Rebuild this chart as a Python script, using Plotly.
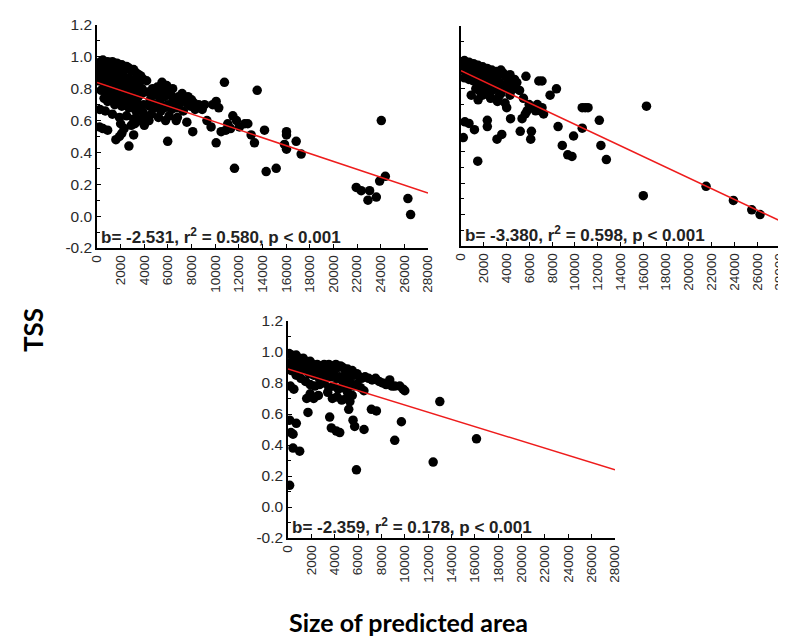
import plotly.graph_objects as go

# ---------------- data ----------------
# Panel A (top-left)
a_x = [100,300,500,700,900,1100,1300,1500,1700,1900,2100,2300,2500,2700,2900,3100,3300,3500,3700,3900,
       200,400,600,800,1000,1200,1400,1600,1800,2000,2200,2400,2600,2800,3000,3200,3400,3600,3800,
       150,500,800,1100,1400,1700,2000,2300,2600,2900,3200,3500,3800,
       600,900,1200,1500,1800,2100,2400,2700,3000,3300,3600,3900,
       700,1300,1900,2500,3100,3700,4100,
       200,500,900,250,1600,1900,2100,2300,2000,2700,3100,2900,3200,4000,3400,
       4200,4300,4500,4700,4800,5000,5100,5300,5400,5600,5700,5900,6000,6100,6200,6400,6500,6600,6700,6900,
       7000,7200,7300,7500,7600,7700,7900,8000,8300,8600,8900,9100,4600,5200,5800,6300,4400,4900,5500,6800,
       5980,8100,9650,9790,10080,10080,10500,10780,11060,11490,11800,12050,12500,12760,13040,13320,13550,
       11630,14170,14310,15160,16030,16030,15860,16030,16850,17270,21930,22350,22920,23060,23630,23910,
       24390,24050,26300,26530,10300,9300,10900,11300,
       400,1000,1600,2200,2800,3400,4000,4600,5200,5800,6400,7000,7600,8200,
       350,950,1550,2150,2750,3350,3950,4450,5050,5650,6250,6850]
a_y = [0.95,0.97,0.98,0.96,0.97,0.95,0.97,0.94,0.96,0.93,0.95,0.92,0.94,0.93,0.91,0.92,0.90,0.89,0.88,0.86,
       0.90,0.92,0.89,0.91,0.88,0.90,0.87,0.89,0.86,0.88,0.85,0.87,0.84,0.86,0.83,0.85,0.82,0.84,0.80,
       0.85,0.84,0.81,0.83,0.80,0.78,0.80,0.77,0.79,0.76,0.78,0.75,0.77,
       0.74,0.72,0.73,0.70,0.72,0.69,0.71,0.68,0.70,0.66,0.68,0.65,
       0.66,0.64,0.62,0.63,0.61,0.60,0.62,
       0.56,0.55,0.54,0.67,0.48,0.50,0.52,0.55,0.58,0.44,0.51,0.57,0.58,0.57,0.61,
       0.85,0.78,0.73,0.80,0.68,0.76,0.81,0.72,0.66,0.79,0.75,0.82,0.70,0.63,0.77,0.80,0.73,0.68,0.60,0.75,
       0.71,0.77,0.66,0.72,0.59,0.75,0.69,0.73,0.67,0.70,0.67,0.70,0.64,0.62,0.60,0.67,0.60,0.70,0.84,0.62,
       0.47,0.53,0.56,0.70,0.72,0.46,0.53,0.84,0.58,0.63,0.60,0.56,0.58,0.58,0.51,0.46,0.79,
       0.30,0.54,0.28,0.30,0.53,0.51,0.45,0.42,0.47,0.39,0.18,0.16,0.10,0.16,0.12,0.22,
       0.25,0.60,0.11,0.01,0.68,0.60,0.54,0.55,
       0.87,0.86,0.84,0.82,0.81,0.79,0.78,0.77,0.78,0.76,0.74,0.73,0.71,0.71,
       0.79,0.77,0.75,0.74,0.73,0.72,0.70,0.69,0.69,0.68,0.70,0.68]
a_fit_x = [0, 28000]
a_fit_y = [0.84, 0.145]
a_label = "b= -2.531, r<sup>2</sup> = 0.580, p < 0.001"

# Panel B (top-right)
b_x = [100,300,500,700,900,1100,1300,1500,1700,1900,2100,2300,2500,2700,2900,3100,3300,3500,3700,3900,4100,4300,4500,4700,4900,
       200,400,600,800,1000,1200,1400,1600,1800,2000,2200,2400,2600,2800,3000,3200,3400,3600,3800,4000,4200,4400,4600,
       300,700,1100,1500,1900,2300,2700,3100,3500,1300,1700,2500,3300,
       900,1890,2600,3440,1500,
       5700,5140,5480,6830,7110,7820,8380,4010,3870,4350,5200,5360,5640,6180,6120,5980,6270,6550,7110,7250,6700,7000,5800,
       1470,200,340,700,1180,2310,2310,3160,3580,4300,3200,
       8520,8890,9370,9740,9880,10640,10640,11150,10900,12140,12280,12760,16280,16000,21510,23910,25520,26250]
b_y = [0.97,0.98,0.96,0.97,0.95,0.96,0.94,0.95,0.93,0.94,0.92,0.93,0.91,0.92,0.90,0.91,0.89,0.92,0.90,0.88,0.87,0.89,0.85,0.86,0.84,
       0.92,0.93,0.91,0.90,0.91,0.89,0.90,0.88,0.87,0.88,0.86,0.85,0.86,0.84,0.85,0.83,0.84,0.82,0.80,0.83,0.81,0.79,0.80,
       0.87,0.86,0.85,0.83,0.82,0.80,0.79,0.80,0.77,0.80,0.78,0.76,0.75,
       0.76,0.76,0.74,0.77,0.73,
       0.88,0.79,0.74,0.85,0.85,0.76,0.80,0.68,0.71,0.61,0.53,0.61,0.64,0.53,0.48,0.70,0.68,0.66,0.68,0.64,0.70,0.66,0.66,
       0.34,0.49,0.59,0.58,0.54,0.60,0.56,0.48,0.51,0.76,0.72,
       0.56,0.44,0.38,0.37,0.50,0.55,0.68,0.68,0.68,0.60,0.44,0.35,0.69,0.12,0.18,0.09,0.03,0.00]
b_fit_x = [0, 28000]
b_fit_y = [0.915, -0.04]
b_label = "b= -3.380, r<sup>2</sup> = 0.598, p < 0.001"

# Panel C (bottom-centre)
c_x = [100,300,500,700,900,1100,1300,1500,1700,1900,2100,2300,2500,2700,2900,3100,3300,3500,3700,3900,4100,4300,4500,4700,4900,
       5100,5300,5500,5700,5900,6100,6300,6600,6900,7200,7500,7800,8100,8400,8710,9140,9570,9860,10000,8900,
       200,400,600,800,1000,1200,1400,1600,1800,2000,2200,2400,2600,2800,3000,3200,3400,3600,3800,4000,4200,4400,4600,4800,5000,
       5200,5400,5600,5900,6200,6500,
       300,700,1100,1500,1900,2300,2700,3100,3500,3900,4300,4700,5100,5500,
       200,500,1600,1900,2200,2600,3400,3800,4200,4600,5000,5300,
       140,5860,12430,13000,16140,9140,9710,6510,5710,5570,5200,1710,3570,3710,4140,4430,140,430,710,430,1000,7140,7570,250]
c_y = [0.99,0.98,0.97,0.98,0.96,0.95,0.96,0.94,0.93,0.94,0.92,0.91,0.92,0.90,0.91,0.92,0.91,0.92,0.90,0.91,0.92,0.90,0.91,0.90,0.88,
       0.89,0.87,0.88,0.85,0.86,0.84,0.83,0.84,0.83,0.82,0.83,0.81,0.80,0.79,0.82,0.78,0.78,0.76,0.75,0.78,
       0.93,0.94,0.92,0.90,0.91,0.89,0.90,0.88,0.86,0.87,0.85,0.86,0.84,0.85,0.87,0.85,0.86,0.84,0.86,0.85,0.83,0.84,0.82,0.83,0.80,
       0.82,0.80,0.78,0.79,0.77,0.75,
       0.88,0.85,0.83,0.81,0.79,0.78,0.79,0.80,0.77,0.78,0.76,0.77,0.74,0.72,
       0.78,0.76,0.70,0.73,0.70,0.72,0.74,0.70,0.71,0.69,0.70,0.68,
       0.14,0.24,0.29,0.68,0.44,0.43,0.55,0.50,0.52,0.56,0.63,0.61,0.58,0.51,0.49,0.48,0.56,0.47,0.54,0.38,0.36,0.63,0.62,0.48]
c_fit_x = [0, 28000]
c_fit_y = [0.89, 0.24]
c_label = "b= -2.359, r<sup>2</sup> = 0.178, p < 0.001"

x_tickvals = [0,2000,4000,6000,8000,10000,12000,14000,16000,18000,20000,22000,24000,26000,28000]
y_tickvals = [-0.2,0.0,0.2,0.4,0.6,0.8,1.0,1.2]
y_ticktext = ["-0.2","0.0","0.2","0.4","0.6","0.8","1.0","1.2"]

# ---------------- figure ----------------
W, H = 786, 644
def dom_x(a, b): return [a / W, b / W]
def dom_y(top, bot): return [1 - bot / H, 1 - top / H]

panels = [
    dict(x=a_x, y=a_y, fx=a_fit_x, fy=a_fit_y, lab=a_label, xd=dom_x(89, 420), yd=dom_y(17, 240), ylab=True),
    dict(x=b_x, y=b_y, fx=b_fit_x, fy=b_fit_y, lab=b_label, xd=dom_x(453, 772), yd=dom_y(18, 238), ylab=False),
    dict(x=c_x, y=c_y, fx=c_fit_x, fy=c_fit_y, lab=c_label, xd=dom_x(280, 607), yd=dom_y(313, 530), ylab=True),
]

fig = go.Figure()
FONT = "Liberation Sans, Arial, sans-serif"
tick_font = dict(family=FONT, size=13.5, color="#2a2a2a")
annotations = []
for i, p in enumerate(panels):
    sfx = "" if i == 0 else str(i + 1)
    xa, ya = "x" + sfx, "y" + sfx
    fig.add_trace(go.Scatter(x=p["x"], y=p["y"], mode="markers", xaxis=xa, yaxis=ya,
                             marker=dict(color="black", size=9.5, line=dict(width=0)),
                             showlegend=False, hoverinfo="skip"))
    fig.add_trace(go.Scatter(x=p["fx"], y=p["fy"], mode="lines", xaxis=xa, yaxis=ya,
                             line=dict(color="#ee1c1c", width=1.5), showlegend=False,
                             hoverinfo="skip"))
    fig.layout["xaxis" + sfx] = dict(
        domain=p["xd"], anchor=ya, range=[0, 28000], tickvals=x_tickvals,
        ticktext=[str(v) for v in x_tickvals], tickangle=-90, ticks="inside", ticklen=4,
        tickcolor="black", showline=True, linecolor="black", linewidth=1.5,
        showgrid=False, zeroline=False, tickfont=tick_font, fixedrange=True,
        automargin=False)
    fig.layout["yaxis" + sfx] = dict(
        domain=p["yd"], anchor=xa, range=[-0.2, 1.2], tickvals=y_tickvals,
        ticktext=y_ticktext, showticklabels=p["ylab"], ticks="inside", ticklen=4,
        tickcolor="black", showline=True, linecolor="black", linewidth=1.5,
        showgrid=False, zeroline=False, tickfont=dict(tick_font, size=15.5),
        minor=dict(dtick=0.1, ticks="inside", ticklen=3, tickcolor="black"),
        fixedrange=True, automargin=False)
    annotations.append(dict(text="<b>" + p["lab"] + "</b>", xref=xa + " domain", yref=ya + " domain",
                            x=0.0, y=0.0, xanchor="left", yanchor="bottom", showarrow=False,
                            font=dict(family=FONT, size=17, color="#222222"), xshift=2, yshift=-1))

annotations.append(dict(text="<b>TSS</b>", xref="paper", yref="paper", x=25 / W, y=1 - 322 / H,
                        textangle=-90, showarrow=False, xanchor="center", yanchor="middle",
                        font=dict(family="Lato, sans-serif", size=26, color="black")))
annotations.append(dict(text="<b>Size of predicted area</b>", xref="paper", yref="paper",
                        x=400 / W, y=1 - 614 / H, showarrow=False, xanchor="center", yanchor="middle",
                        font=dict(family="Lato, sans-serif", size=25, color="black")))

fig.update_layout(width=W, height=H, margin=dict(l=0, r=0, t=0, b=0),
                  paper_bgcolor="white", plot_bgcolor="white", annotations=annotations)
fig.write_html("out.html")
